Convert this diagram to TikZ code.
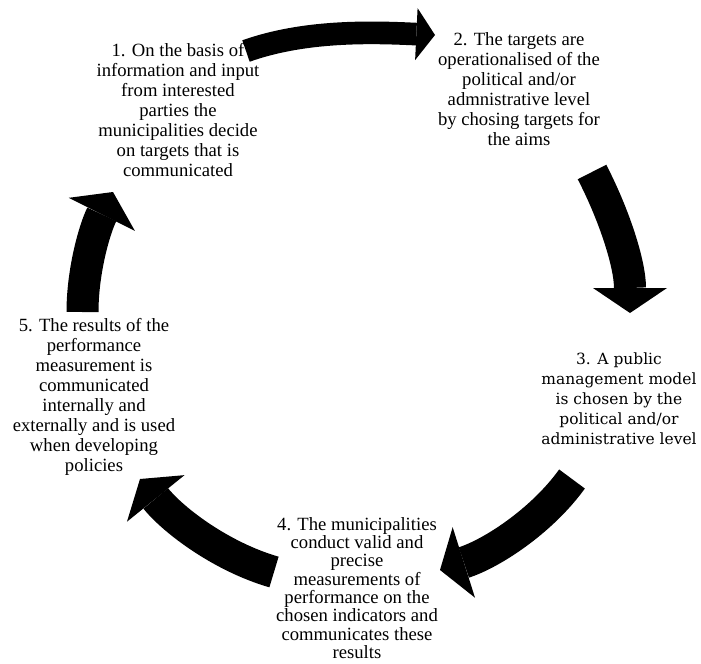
\documentclass[tikz,border=0pt]{standalone}
\usepackage{fontspec}
\setmainfont{Liberation Serif}
\newfontfamily\modelfont{DejaVu Serif}
\usetikzlibrary{arrows.meta}
\tikzstyle{stage} = [align=center,inner sep=0pt,font=\fontsize{14}{15}\selectfont]
\tikzstyle{bigarrow} = [line width=24pt,-{Triangle[width=55.5pt,length=18.75pt,line width=0pt]}]
\tikzstyle{thinarrow} = [line width=17pt,-{Triangle[width=39pt,length=14pt,line width=0pt]}]

\begin{document}
\begin{tikzpicture}[x=0.75pt,y=-0.75pt]
    \useasboundingbox (0,0) rectangle (701,664);

    % the five steps
    \node [stage] (s1) at (178,110) {1. On the basis of\\information and input\\from interested\\parties the\\municipalities decide\\on targets that is\\communicated};
    \node [stage] (s2) at (519,89) {2. The targets are\\operationalised of the\\political and/or\\admnistrative level\\by chosing targets for\\the aims};
    \node [stage,font=\modelfont\fontsize{11.6}{15}\selectfont] (s3) at (619,399) {3. A public\\management model\\is chosen by the\\political and/or\\administrative level};
    \node [stage,font=\fontsize{14}{13.7}\selectfont] (s4) at (357,588) {4. The municipalities\\conduct valid and\\precise\\measurements of\\performance on the\\chosen indicators and\\communicates these\\results};
    \node [stage] (s5) at (94,397) {5. The results of the\\performance\\measurement is\\communicated\\internally and\\externally and is used\\when developing\\policies};

    % arrows round the cycle
    \coordinate (a1s) at (246,51);
    \coordinate (a1e) at (435,35);
    \coordinate (a2s) at (592,172);
    \coordinate (a2e) at (630,313);
    \coordinate (a3s) at (572,479);
    \coordinate (a3e) at (440,570);
    \coordinate (a4s) at (274,572);
    \coordinate (a4e) at (140,479);
    \coordinate (a5s) at (82.5,312);
    \coordinate (a5e) at (113,192);

    \draw [thinarrow] (a1s) .. controls (305,30) and (372,32) .. (a1e);
    \draw [bigarrow] (a2s) .. controls (614.5,215.6) and (630,264) .. (a2e);
    \draw [bigarrow] (a3s) .. controls (541,522) and (490.5,554) .. (a3e);
    \draw [bigarrow] (a4s) .. controls (222,557) and (174,521) .. (a4e);
    \draw [bigarrow] (a5s) .. controls (82.5,271) and (94.5,229) .. (a5e);
\end{tikzpicture}
\end{document}
